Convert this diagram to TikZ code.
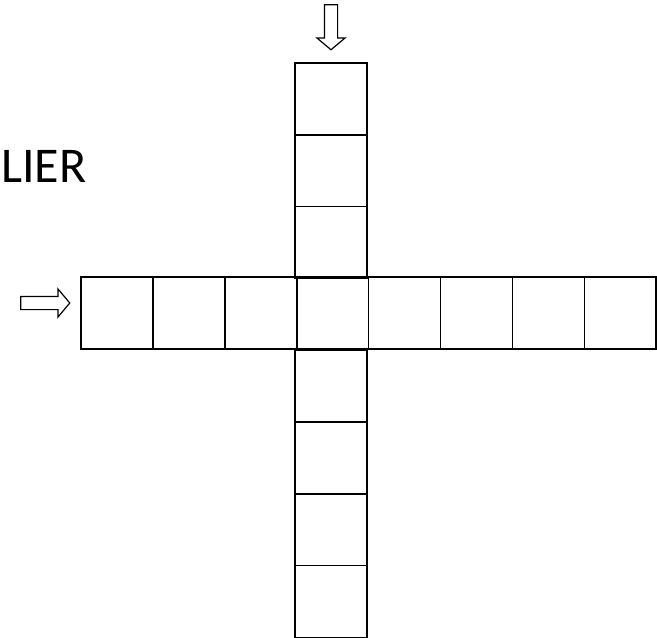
\documentclass[tikz,border=0pt]{standalone}
\usepackage{fontspec}
\setmainfont{Carlito}
\usetikzlibrary{shapes.arrows,positioning}

\tikzset{
  cell/.style={draw, line width=1.6pt, minimum size=71.9pt, inner sep=0pt, outer sep=0pt},
  feedarrow/.style={single arrow, draw, line width=1.2pt, inner sep=0pt, inner ysep=6pt,
    single arrow head extend=7.5pt, single arrow tip angle=100, minimum height=46pt}
}

\begin{document}
\begin{tikzpicture}[x=1pt,y=-1pt]
  \useasboundingbox (0,0) rectangle (657,638);
  % horizontal row
  \foreach \i in {0,...,7}
    \node[cell] (r\i) at ({81+71.9*(\i+0.5)},313) {};
  % vertical column, above and below the crossing cell
  \foreach \j in {0,1,2}
    \node[cell] (c\j) at (331,{63+71.8*(\j+0.5)}) {};
  \foreach \j in {4,...,7}
    \node[cell] (c\j) at (331,{63+71.8*(\j+0.5)}) {};
  % input arrows
  \node[feedarrow, minimum height=49pt] (inleft) at (42.5,303) {};
  \node[feedarrow, rotate=-90, minimum height=45pt] (intop) at (331,24.5) {};
  % label
  \node[anchor=base west, inner sep=1pt, font=\fontsize{50}{52}\selectfont] (title) at (0,182) {LIER};
\end{tikzpicture}
\end{document}
